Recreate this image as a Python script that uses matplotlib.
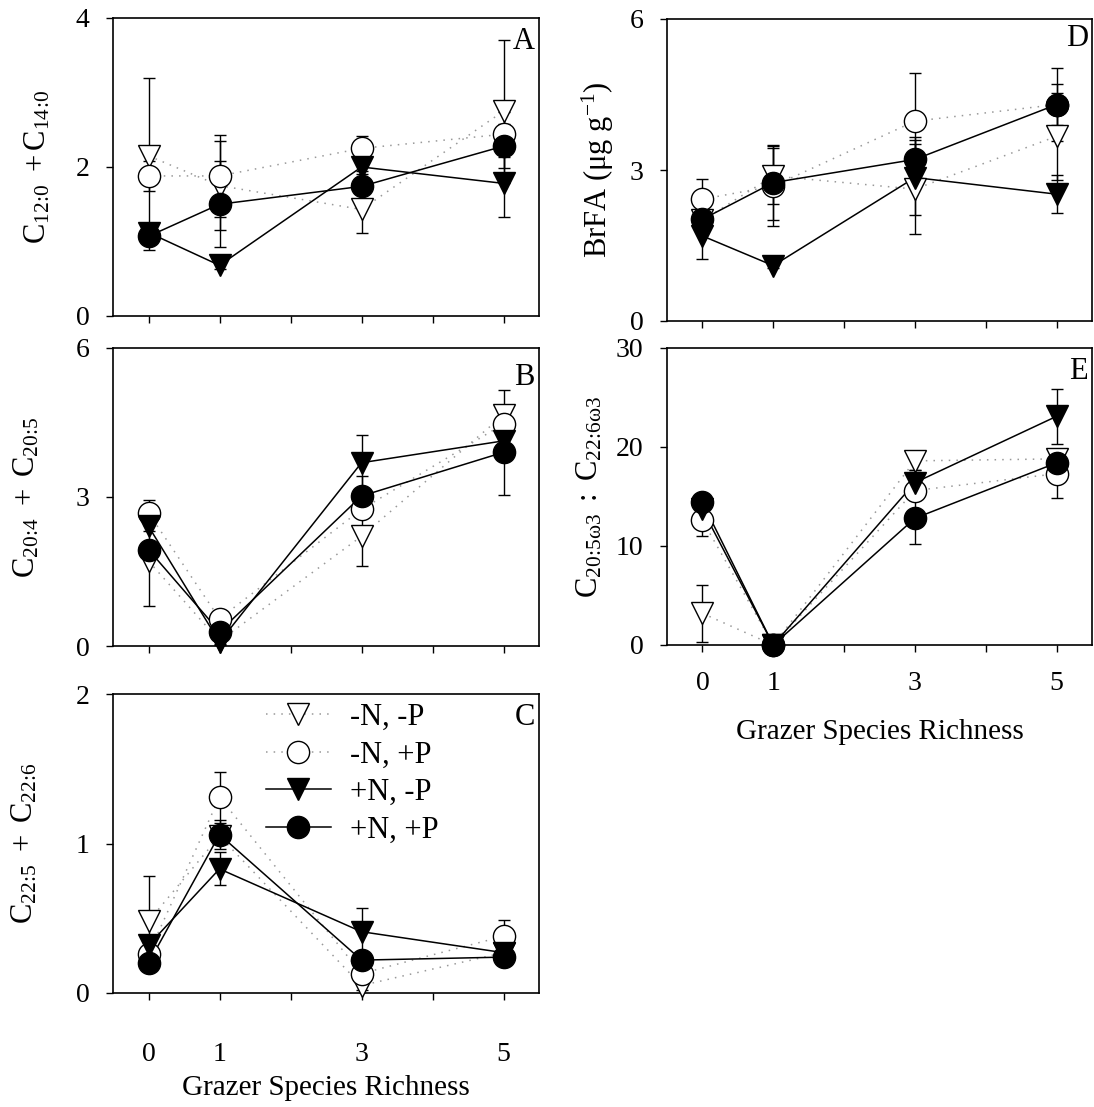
import matplotlib
matplotlib.use('Agg')
import matplotlib.pyplot as plt
from matplotlib.lines import Line2D

plt.rcParams['font.family'] = ['Liberation Serif', 'DejaVu Serif']
plt.rcParams['mathtext.fontset'] = 'custom'
plt.rcParams['mathtext.rm'] = 'Liberation Serif'
plt.rcParams['mathtext.it'] = 'Liberation Serif:italic'
plt.rcParams['mathtext.bf'] = 'Liberation Serif:bold'

# grazer species richness levels
richness = [0, 1, 3, 5]
treatments = ['-N, -P', '-N, +P', '+N, -P', '+N, +P']

# rows follow treatments order
a_mean = [[2.15, 1.75, 1.43, 2.75],
          [1.88, 1.88, 2.25, 2.44],
          [1.12, 0.68, 2.00, 1.78],
          [1.07, 1.50, 1.74, 2.28]]
a_err = [[1.05, 0.60, 0.31, 0.96],
         [0.20, 0.55, 0.17, 0.30],
         [0.10, 0.05, 0.10, 0.45],
         [0.18, 0.58, 0.20, 0.30]]

b_mean = [[1.71, 0.10, 2.21, 4.65],
          [2.68, 0.55, 2.75, 4.47],
          [2.41, 0.08, 3.69, 4.13],
          [1.94, 0.29, 3.02, 3.90]]
b_err = [[0.90, 0.05, 0.60, 0.50],
         [0.25, 0.05, 0.15, 0.30],
         [0.10, 0.05, 0.56, 0.20],
         [0.15, 0.10, 0.40, 0.85]]

c_mean = [[0.48, 1.05, 0.05, 0.27],
          [0.26, 1.31, 0.13, 0.38],
          [0.32, 0.83, 0.41, 0.27],
          [0.20, 1.06, 0.22, 0.24]]
c_err = [[0.30, 0.05, 0.03, 0.03],
         [0.05, 0.17, 0.03, 0.11],
         [0.05, 0.11, 0.16, 0.04],
         [0.05, 0.10, 0.03, 0.04]]

d_mean = [[2.00, 2.88, 2.62, 3.67],
          [2.42, 2.68, 3.97, 4.30],
          [1.69, 1.10, 2.85, 2.52],
          [2.02, 2.75, 3.21, 4.30]]
d_err = [[0.10, 0.55, 0.90, 0.86],
         [0.40, 0.80, 0.95, 0.40],
         [0.46, 0.05, 0.75, 0.38],
         [0.15, 0.75, 0.45, 0.72]]

e_mean = [[3.2, 0.0, 18.6, 18.8],
          [12.6, 0.0, 15.6, 17.3],
          [13.7, 0.0, 16.4, 23.1],
          [14.4, 0.0, 12.8, 18.4]]
e_err = [[2.85, 0.0, 0.9, 0.8],
         [1.6, 0.0, 1.0, 2.5],
         [0.5, 0.0, 1.3, 2.8],
         [0.5, 0.0, 2.6, 1.2]]

W, H = 1094, 1107
fig = plt.figure(figsize=(W / 100, H / 100), dpi=100)


def px_axes(l, t, r, b):
    return fig.add_axes([l / W, 1 - b / H, (r - l) / W, (b - t) / H])


markers = ['v', 'o', 'v', 'o']
faces = ['white', 'white', 'black', 'black']
lstyle = [(0, (1, 4)), (0, (1, 4)), '-', '-']
lcolor = ['0.6', '0.6', 'black', 'black']
msize = [16, 16, 16, 16]


def panel(ax, means, errs, ylim, yticks, ylabel, letter, lx, ly):
    for i in range(4):
        ax.errorbar(richness, means[i], yerr=errs[i], fmt='none', ecolor='black',
                    elinewidth=1, capsize=4, capthick=1, zorder=2, clip_on=False)
        ax.plot(richness, means[i], ls=lstyle[i], color=lcolor[i], lw=1.1, zorder=2)
        ax.plot(richness, means[i], ls='none', marker=markers[i], ms=msize[i],
                mfc=faces[i], mec='black', mew=1, zorder=3 + i, clip_on=False)
    ax.set_xlim(-0.5, 5.5)
    ax.set_ylim(*ylim)
    ax.set_yticks(yticks)
    ax.set_xticks(range(6))
    ax.set_xticklabels(['0', '1', '', '3', '', '5'])
    ax.tick_params(direction='out', length=5, width=1, labelsize=20, pad=12)
    for s in ax.spines.values():
        s.set_linewidth(1.2)
    ax.set_ylabel(ylabel, fontsize=22)
    ax.yaxis.set_label_coords(lx, 0.5)
    ax.text(0.99, ly, letter, transform=ax.transAxes, ha='right', va='center',
            fontsize=22)


ax_a = px_axes(113, 18, 539, 316)
panel(ax_a, a_mean, a_err, (0, 4), [0, 2, 4], r'$\mathrm{C_{12\!:\!0}\ +C_{14\!:\!0}}$',
      'A', -0.142, 0.92)
ax_a.tick_params(labelbottom=False)

ax_b = px_axes(113, 348, 539, 646)
panel(ax_b, b_mean, b_err, (0, 6), [0, 3, 6], r'$\mathrm{C_{20\!:\!4}\ +\ C_{20\!:\!5}}$',
      'B', -0.167, 0.90)
ax_b.tick_params(labelbottom=False)

ax_c = px_axes(113, 694, 539, 993)
panel(ax_c, c_mean, c_err, (0, 2), [0, 1, 2], r'$\mathrm{C_{22\!:\!5}\ +\ C_{22\!:\!6}}$',
      'C', -0.172, 0.923)
ax_c.tick_params(axis='x', pad=30)
ax_c.set_xlabel('Grazer Species Richness', fontsize=21, labelpad=6)

ax_d = px_axes(667, 19, 1092, 321)
panel(ax_d, d_mean, d_err, (0, 6), [0, 3, 6], 'BrFA (μg g$^{-1}$)',
      'D', -0.12, 0.934)
ax_d.tick_params(labelbottom=False)

ax_e = px_axes(667, 348, 1092, 645)
panel(ax_e, e_mean, e_err, (0, 30), [0, 10, 20, 30],
      r'$\mathrm{C_{20\!:\!5ω3}\ :\ C_{22\!:\!6ω3}}$', 'E', -0.147, 0.92)
ax_e.tick_params(axis='x', pad=14)
ax_e.set_xlabel('Grazer Species Richness', fontsize=21, labelpad=16)

handles = [Line2D([], [], ls=lstyle[i], color=lcolor[i], lw=1.1, marker=markers[i],
                  ms=msize[i], mfc=faces[i], mec='black', mew=1) for i in range(4)]
ax_c.legend(handles, treatments, loc='upper left', bbox_to_anchor=(0.36, 0.97),
            frameon=False, fontsize=22, handlelength=2.1, handletextpad=0.64,
            labelspacing=0.28, borderpad=0, borderaxespad=0)

fig.savefig('out.png', dpi=100)
